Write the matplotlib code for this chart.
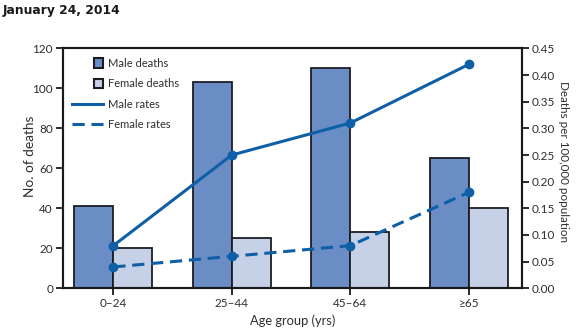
import matplotlib
matplotlib.use('Agg')
import matplotlib.pyplot as plt
from matplotlib.patches import Rectangle
from matplotlib.lines import Line2D
from matplotlib.legend_handler import HandlerPatch
import numpy as np

# data
age_groups = ['0\u201324', '25\u201344', '45\u201364', '\u226565']
male_deaths = [41, 103, 110, 65]
female_deaths = [20, 25, 28, 40]
male_rates = [0.08, 0.25, 0.31, 0.42]
female_rates = [0.04, 0.06, 0.08, 0.18]

plt.rcParams['font.family'] = ['Lato', 'DejaVu Sans']

male_col = '#6a8dc6'
female_col = '#c6d1e8'
line_col = '#0f5fa6'
edge_col = '#1c1c24'
txt_col = '#2e2e2e'

fig = plt.figure(figsize=(5.81, 3.36), dpi=100)
ax = fig.add_axes([0.108, 0.142, 0.790, 0.714])
ax2 = ax.twinx()

x = np.arange(len(age_groups))
w = 0.33
b1 = ax.bar(x - w / 2, male_deaths, w, color=male_col, edgecolor=edge_col, linewidth=1.3)
b2 = ax.bar(x + w / 2, female_deaths, w, color=female_col, edgecolor=edge_col, linewidth=1.3)

ax2.plot(x, male_rates, '-o', color=line_col, lw=2.2, ms=6)
ax2.plot(x, female_rates, '--o', color=line_col, lw=2.2, ms=6, dashes=(4, 2.2))

ax.set_xlim(-0.427, 3.447)
ax.set_ylim(0, 120)
ax.set_yticks(range(0, 121, 20))
ax2.set_ylim(0, 0.45)
rt = np.arange(0, 0.451, 0.05)
ax2.set_yticks(rt)
ax2.set_yticklabels(['%.2f' % v for v in rt])
ax.set_xticks(x)
ax.set_xticklabels(age_groups)

for a in (ax, ax2):
    for s in a.spines.values():
        s.set_linewidth(1.5)
        s.set_color('#1a1a1a')
    a.tick_params(width=1.3, length=5, labelsize=8.5, colors='#1a1a1a', labelcolor=txt_col, pad=2)

ax.set_xlabel('Age group (yrs)', fontsize=9.3, color=txt_col, labelpad=4)
ax.set_ylabel('No. of deaths', fontsize=9.8, color=txt_col, va='center')
ax.yaxis.set_label_coords(-0.071, 0.549)
ax2.set_ylabel('Deaths per 100,000 population', fontsize=8.4, color=txt_col, rotation=270, va='center')
ax2.yaxis.set_label_coords(1.092, 0.528)


# square legend keys sitting at the right end of the key box
def square_key(legend, orig_handle, xdescent, ydescent, width, height, fontsize):
    side = height * 1.25
    return Rectangle((-xdescent + width - side, -ydescent + (height - side) / 2), side, side)


h1 = Rectangle((0, 0), 1, 1, facecolor=male_col, edgecolor=edge_col, linewidth=1.5)
h2 = Rectangle((0, 0), 1, 1, facecolor=female_col, edgecolor=edge_col, linewidth=1.5)
h3 = Line2D([], [], color=line_col, lw=2.2)
h4 = Line2D([], [], color=line_col, lw=2.2, ls='--', dashes=(4, 2.2))
leg = ax.legend([h1, h2, h3, h4], ['Male deaths', 'Female deaths', 'Male rates', 'Female rates'],
                loc='upper left', frameon=False, fontsize=8, handlelength=2.8, handletextpad=0.4,
                labelspacing=0.85, bbox_to_anchor=(0.0, 1.0), borderaxespad=0.45,
                handler_map={Rectangle: HandlerPatch(patch_func=square_key)})
for t in leg.get_texts():
    t.set_color(txt_col)

fig.text(0.005, 0.988, 'January 24, 2014', fontsize=8.8, fontweight='bold', va='top', ha='left',
         color='#1a1a1a', family='DejaVu Sans')

plt.savefig('out.png', dpi=100)
